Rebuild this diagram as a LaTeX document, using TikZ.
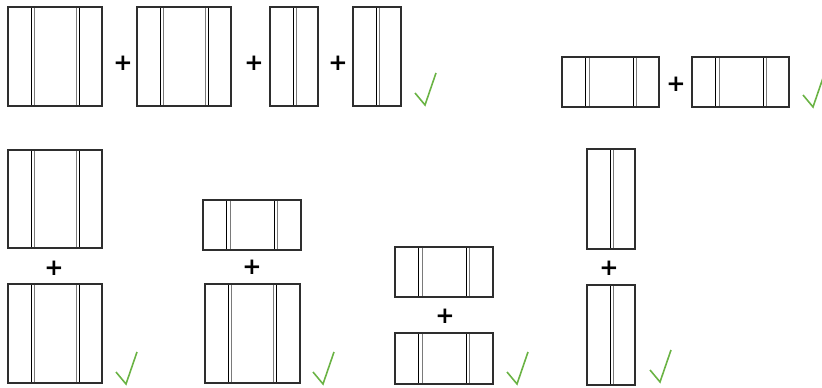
\documentclass[tikz,border=0pt]{standalone}
\usepackage{fontspec}
\newfontfamily\plusfont{DejaVu Sans}
\definecolor{fdark}{HTML}{2E2E2E}
\definecolor{fgray}{HTML}{7A7A7A}
\definecolor{tgreen}{HTML}{6AB344}
% pair of mullions, offsets from the left edge of the frame
\newcommand{\mullpair}[2]{%
  \draw[mdark] ([xshift=#1]path picture bounding box.north west)
    -- ([xshift=#1]path picture bounding box.south west);
  \draw[mgray] ([xshift=#2]path picture bounding box.north west)
    -- ([xshift=#2]path picture bounding box.south west);}
\tikzset{
  mdark/.style={black,line width=0.9pt},
  mgray/.style={fgray,line width=1pt},
  frame/.style={draw=fdark,line width=2.2pt,anchor=north west,
    inner sep=0pt,outer sep=0pt},
  square/.style={frame,minimum width=94pt,minimum height=99pt,
    path picture={\mullpair{23pt}{26.5pt}\mullpair{71.5pt}{68pt}}},
  slim/.style={frame,minimum width=48pt,minimum height=99pt,
    path picture={\mullpair{23pt}{26.5pt}}},
  wide/.style={frame,minimum width=97pt,minimum height=50pt,
    path picture={\mullpair{23.5pt}{27pt}\mullpair{71pt}{74.5pt}}},
  plus/.style={font=\plusfont\bfseries\fontsize{23}{23}\selectfont,
    inner sep=0pt},
  tickline/.style={tgreen,line width=1.6pt},
  tick/.pic={\draw[tickline] (0,0) -- (10,12) -- (21,-20);}
}
\begin{document}
\begin{tikzpicture}[x=1pt,y=-1pt]
  \useasboundingbox (0,0) rectangle (822,388);

  % top row, four frames
  \node[square] (winA) at (8,7) {};
  \node[plus] (plusA) at (123,63) {+};
  \node[square] (winB) at (137,7) {};
  \node[plus] (plusB) at (254,63) {+};
  \node[slim] (winC) at (270,7) {};
  \node[plus] (plusC) at (338,63) {+};
  \node[slim] (winD) at (353,7) {};
  \pic at (415,93) {tick};

  % top row, two wide frames
  \node[wide] (winE) at (562,57) {};
  \node[plus] (plusE) at (676,84) {+};
  \node[wide] (winF) at (692,57) {};
  \pic at (803,95) {tick};

  % bottom row, stacked pairs
  \node[square,minimum height=98pt] (winG) at (8,150) {};
  \node[plus] (plusG) at (54,268) {+};
  \node[square] (winH) at (8,284) {};
  \pic at (116,372) {tick};

  \node[wide,minimum width=98pt] (winI) at (203,200) {};
  \node[plus] (plusI) at (252,267) {+};
  \node[square,minimum width=95pt] (winJ) at (205,284) {};
  \pic at (313,372) {tick};

  \node[wide,minimum width=98pt] (winK) at (395,247) {};
  \node[plus] (plusK) at (445,316) {+};
  \node[wide,minimum width=98pt,minimum height=51pt] (winL) at (395,333) {};
  \pic at (507,372) {tick};

  \node[slim,minimum height=100pt] (winM) at (587,149) {};
  \node[plus] (plusM) at (609,268) {+};
  \node[slim,minimum height=100pt] (winN) at (587,285) {};
  \pic at (650,370) {tick};
\end{tikzpicture}
\end{document}
